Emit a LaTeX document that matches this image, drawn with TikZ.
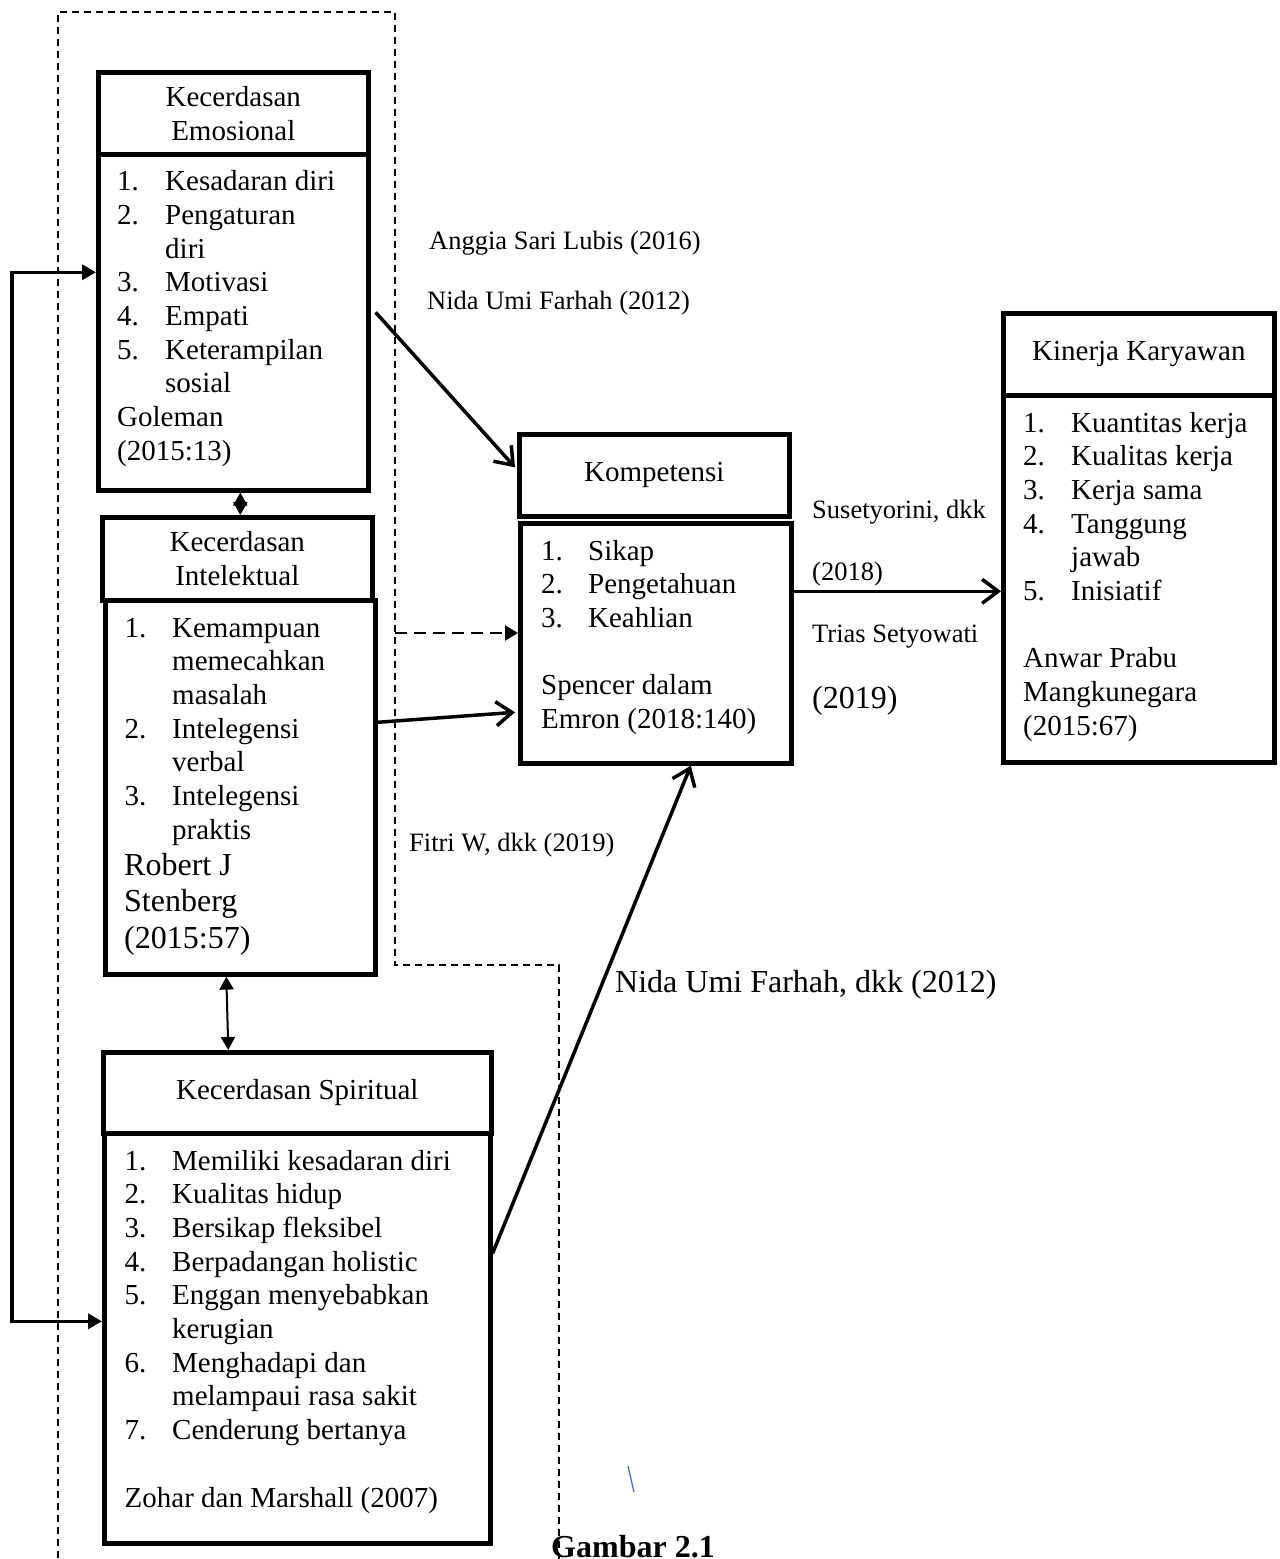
\documentclass[tikz,border=0pt]{standalone}
\usepackage{fontspec}
\setmainfont{Liberation Serif}
\usetikzlibrary{arrows.meta,calc}
\newcommand\lstfont{\fontsize{29}{33.7}\selectfont}
\newcommand\lblfont{\fontsize{26.5}{30}\selectfont}
\newcommand\bigfont{\fontsize{32}{36.6}\selectfont}
\begin{document}
\begin{tikzpicture}[x=1pt,y=-1pt,
  box/.style={draw,line width=4.6pt,rectangle,inner sep=0pt,anchor=north west},
  hbox/.style={box,align=center,font=\lstfont},
  lsttext/.style={anchor=base west,inner sep=0pt,font=\lstfont},
  lbl/.style={anchor=base west,inner sep=0pt,font=\lblfont},
  biglbl/.style={anchor=base west,inner sep=0pt,font=\bigfont},
  openarrow/.style={line width=3.5pt,-{Straight Barb[length=16pt,width=24pt,line width=3.5pt]}},
  loopline/.style={line width=3.5pt,{Triangle[length=14pt,width=15pt]}-{Triangle[length=14pt,width=15pt]}},
  dbl/.style={line width=2pt,{Triangle[length=13pt,width=14pt]}-{Triangle[length=13pt,width=14pt]}},
  frame/.style={line width=1.6pt,dash pattern=on 7pt off 5pt},
  dasharrow/.style={line width=2.2pt,dash pattern=on 12pt off 7pt,-{Triangle[length=13pt,width=15pt]}}
]
\useasboundingbox (0,0) rectangle (1280,1559);

% dashed frame
\draw[frame] (58,1570) -- (58,12) -- (395,12) -- (395,965) -- (559,965) -- (559,1570);

% boxes
\node[hbox,minimum width=270pt,minimum height=82pt] (emoH) at (96,70) {Kecerdasan\\Emosional};
\node[box,minimum width=270pt,minimum height=336pt] (emoB) at (96,152) {};
\node[hbox,minimum width=270pt,minimum height=83pt] (intH) at (100,515) {Kecerdasan\\Intelektual};
\node[box,minimum width=270pt,minimum height=374pt] (intB) at (103,598) {};
\node[hbox,minimum width=388pt,minimum height=81pt] (spiH) at (101,1050) {Kecerdasan Spiritual};
\node[box,minimum width=386pt,minimum height=410pt] (spiB) at (102,1131) {};
\node[hbox,minimum width=270pt,minimum height=82pt] (kompH) at (517,432) {Kompetensi};
\node[box,minimum width=271pt,minimum height=240pt] (kompB) at (518,521) {};
\node[hbox,minimum width=271pt,minimum height=82pt] (kinH) at (1001,311) {Kinerja Karyawan};
\node[box,minimum width=271pt,minimum height=367pt] (kinB) at (1001,393) {};

% list texts
\node[lsttext] (emoT) at (117,190.7) {\begin{tabular}[t]{@{}p{48pt}@{}l@{}}
1.&Kesadaran diri\\
2.&Pengaturan\\
&diri\\
3.&Motivasi\\
4.&Empati\\
5.&Keterampilan\\
&sosial\\
\multicolumn{2}{@{}l@{}}{Goleman}\\
\multicolumn{2}{@{}l@{}}{(2015:13)}
\end{tabular}};

\node[lsttext] (intT) at (124.5,637) {\begin{tabular}[t]{@{}p{47.5pt}@{}l@{}}
1.&Kemampuan\\
&memecahkan\\
&masalah\\
2.&Intelegensi\\
&verbal\\
3.&Intelegensi\\
&praktis
\end{tabular}};
\node[biglbl] (intA) at (124,875) {\begin{tabular}[t]{@{}l@{}}
Robert J\\
Stenberg\\
(2015:57)
\end{tabular}};

\node[lsttext] (spiT) at (124.5,1170) {\begin{tabular}[t]{@{}p{47.5pt}@{}l@{}}
1.&Memiliki kesadaran diri\\
2.&Kualitas hidup\\
3.&Bersikap fleksibel\\
4.&Berpadangan holistic\\
5.&Enggan menyebabkan\\
&kerugian\\
6.&Menghadapi dan\\
&melampaui rasa sakit\\
7.&Cenderung bertanya\\
&\\
\multicolumn{2}{@{}l@{}}{Zohar dan Marshall (2007)}
\end{tabular}};

\node[lsttext] (kompT) at (541,560) {\begin{tabular}[t]{@{}p{47pt}@{}l@{}}
1.&Sikap\\
2.&Pengetahuan\\
3.&Keahlian\\
&\\
\multicolumn{2}{@{}l@{}}{Spencer dalam}\\
\multicolumn{2}{@{}l@{}}{Emron (2018:140)}
\end{tabular}};

\node[lsttext] (kinT) at (1023,432) {\begin{tabular}[t]{@{}p{48pt}@{}l@{}}
1.&Kuantitas kerja\\
2.&Kualitas kerja\\
3.&Kerja sama\\
4.&Tanggung\\
&jawab\\
5.&Inisiatif\\
&\\
\multicolumn{2}{@{}l@{}}{Anwar Prabu}\\
\multicolumn{2}{@{}l@{}}{Mangkunegara}\\
\multicolumn{2}{@{}l@{}}{(2015:67)}
\end{tabular}};

% labels
\node[lbl] (anggia) at (429,249) {Anggia Sari Lubis (2016)};
\node[lbl] (nidaA) at (427,309) {Nida Umi Farhah (2012)};
\node[lbl] (suse) at (812,518) {Susetyorini, dkk};
\node[lbl] (yA) at (812,580) {(2018)};
\node[lbl] (trias) at (812,642) {Trias Setyowati};
\node[biglbl] (yB) at (812,708) {(2019)};
\node[lbl] (fitri) at (409,851) {Fitri W, dkk (2019)};
\node[biglbl] (nidaB) at (615,992) {Nida Umi Farhah, dkk (2012)};
\node[anchor=base west,inner sep=0pt,font=\bigfont\bfseries] (gambar) at (551,1557) {Gambar 2.1};

% connectors
\draw[openarrow] ($(emoB.east)+(5,-10)$) -- ($(kompH.west)+(-2,-8)$);
\draw[openarrow] ($(intB.east)+(0,-65)$) -- ($(kompB.west)+(-3,69)$);
\coordinate (ks) at ($(kompB.east)+(0,-52)$);
\draw[openarrow] (ks) -- (ks -| kinB.west);
\draw[openarrow] ($(spiB.east)+(0,-85)$) -- ($(kompB.south)+(35,0)$);

\coordinate (L1) at ($(emoB.west)+(0,-50)$);
\coordinate (L2) at ($(spiB.west)+(0,-17)$);
\coordinate (LX) at (12,0);
\draw[loopline] (L1) -- (L1 -| LX) -- (L2 -| LX) -- (L2);

\coordinate (d1) at ($(emoB.south)+(7,0)$);
\draw[dbl] (d1) -- (d1 |- intH.north);
\draw[dbl] ($(intB.south)+(-14,0)$) -- ($(spiH.north)+(-69,0)$);

\coordinate (dA) at (395,633);
\draw[dasharrow] (dA) -- (dA -| kompB.west);

% stray mark
\definecolor{markblue}{RGB}{68,114,196}
\draw[markblue,line width=1.3pt] (628,1466) -- (634,1492);
\end{tikzpicture}
\end{document}
